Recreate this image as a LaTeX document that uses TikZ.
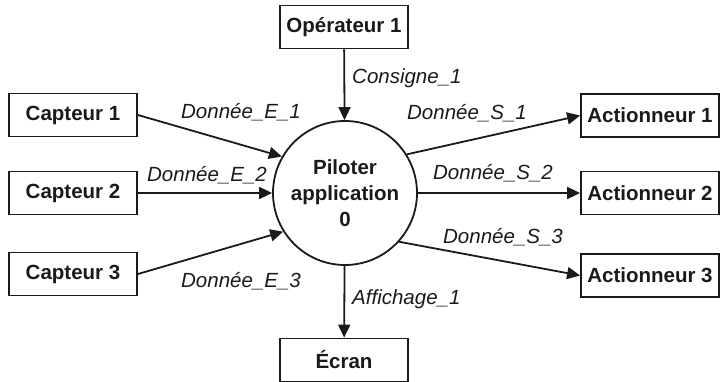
\documentclass[tikz,border=0pt]{standalone}
\usepackage{fontspec}
\setmainfont{Liberation Sans}
\usetikzlibrary{arrows.meta}
\definecolor{ink}{HTML}{1A1A1A}
\begin{document}
\begin{tikzpicture}[x=1pt,y=-1pt,
  every node/.style={text=ink},
  entity/.style={draw=ink, line width=1.8pt, fill=white, inner sep=0pt,
    minimum height=43pt, font=\fontsize{20.5}{24}\selectfont\bfseries},
  sidebox/.style={entity, minimum width=128pt},
  actbox/.style={entity, minimum width=138pt},
  process/.style={draw=ink, line width=1.8pt, circle, minimum size=144pt,
    inner sep=0pt, align=center, font=\fontsize{20.5}{26}\selectfont\bfseries},
  flowlabel/.style={font=\fontsize{20.5}{24}\selectfont\itshape, inner sep=0pt},
  flow/.style={draw=ink, line width=1.8pt,
    -{Triangle[length=13pt,width=12pt]}}
]
\useasboundingbox (0,0) rectangle (721,382);

% central process
\node[process] (pil) at (345,193) {Piloter\\application\\0};

% external entities
\node[sidebox] (op)  at (344,27)  {Opérateur 1};
\node[sidebox] (ecr) at (344,360) {Écran};
\node[sidebox] (c1)  at (73,115)  {Capteur 1};
\node[sidebox] (c2)  at (73,193)  {Capteur 2};
\node[sidebox] (c3)  at (73,274)  {Capteur 3};
\node[actbox]  (a1)  at (650,115.5) {Actionneur 1};
\node[actbox]  (a2)  at (650,193)   {Actionneur 2};
\node[actbox]  (a3)  at (650,275.5) {Actionneur 3};

% data flows
\draw[flow] (op) -- (pil);
\draw[flow] (pil) -- (ecr);
\draw[flow] (c1.east) -- (pil.150);
\draw[flow] (c2) -- (pil);
\draw[flow] (c3.east) -- (pil.212);
\draw[flow] (pil.32) -- (a1.west);
\draw[flow] (pil) -- (a2);
\draw[flow] (pil.-42) -- (a3.west);

% flow labels
\node[flowlabel, anchor=west] (lcons) at (352,78)  {Consigne\_1};
\node[flowlabel, anchor=west] (laff)  at (352,299) {Affichage\_1};
\node[flowlabel] (le1) at (241,112) {Donnée\_E\_1};
\node[flowlabel] (le2) at (207,175) {Donnée\_E\_2};
\node[flowlabel] (le3) at (241,281) {Donnée\_E\_3};
\node[flowlabel] (ls1) at (467,113) {Donnée\_S\_1};
\node[flowlabel] (ls2) at (493,173) {Donnée\_S\_2};
\node[flowlabel] (ls3) at (503,237) {Donnée\_S\_3};
\end{tikzpicture}
\end{document}
